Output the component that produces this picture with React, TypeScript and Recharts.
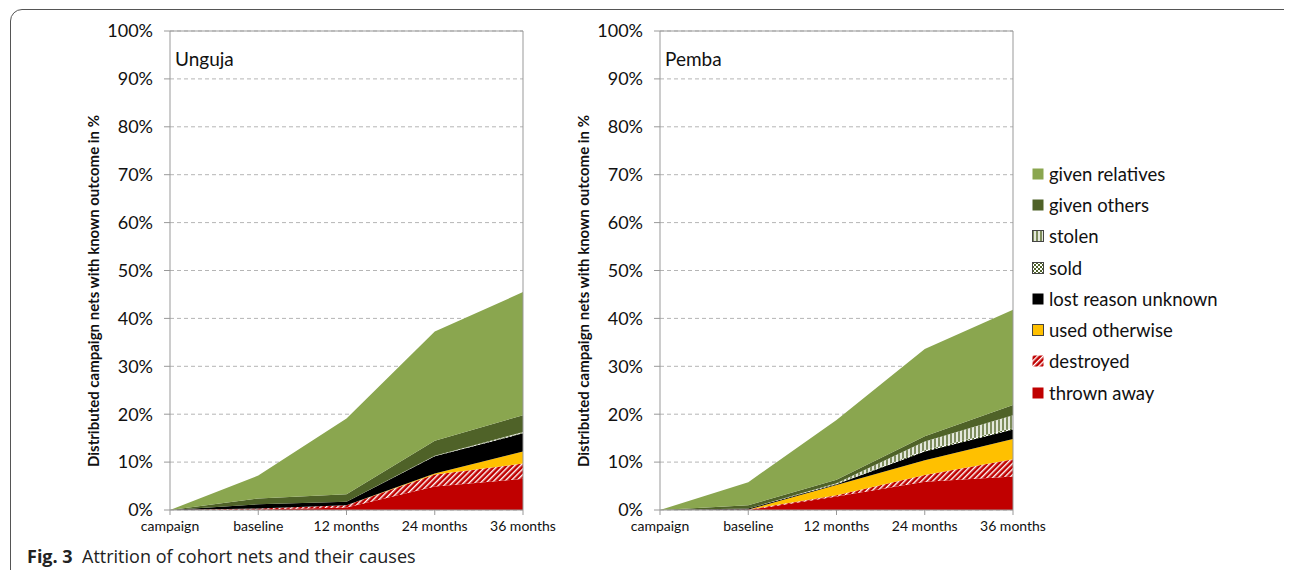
import React from "react";
import {
  AreaChart,
  Area,
  XAxis,
  YAxis,
  CartesianGrid,
  ReferenceLine,
} from "recharts";

const months = ["campaign", "baseline", "12 months", "24 months", "36 months"];
const yTicks = [0, 10, 20, 30, 40, 50, 60, 70, 80, 90, 100];

// Unguja, % of distributed nets per cause
const thrownU = [0, 0.1, 0.5, 4.9, 6.5];
const destroyedU = [0, 0.2, 0.5, 2.5, 3.2];
const usedU = [0, 0, 0, 0.2, 2.5];
const lostU = [0, 0.9, 0.7, 3.6, 3.8];
const soldU = [0, 0, 0, 0.05, 0.1];
const stolenU = [0, 0, 0, 0.1, 0.2];
const othersU = [0, 1.2, 1.6, 3.1, 3.5];
const relativesU = [0, 4.8, 15.8, 22.8, 25.7];

// Pemba
const thrownP = [0, 0, 2.8, 5.9, 7.0];
const destroyedP = [0, 0.1, 0.3, 1.4, 3.6];
const usedP = [0, 0, 2.1, 3.1, 4.2];
const lostP = [0, 0.2, 0.2, 1.8, 2.0];
const soldP = [0, 0, 0, 0.3, 0.3];
const stolenP = [0, 0, 0.2, 1.8, 2.7];
const othersP = [0, 0.7, 0.7, 1.1, 2.1];
const relativesP = [0, 4.8, 12.5, 18.2, 19.9];

const series = [
  { key: "thrown", name: "thrown away" },
  { key: "destroyed", name: "destroyed" },
  { key: "used", name: "used otherwise" },
  { key: "lost", name: "lost reason unknown" },
  { key: "sold", name: "sold" },
  { key: "stolen", name: "stolen" },
  { key: "others", name: "given others" },
  { key: "relatives", name: "given relatives" },
];

const buildRows = (cols: number[][]) =>
  months.map((m, i) => {
    const row: any = { month: m };
    series.forEach((s, j) => (row[s.key] = cols[j][i]));
    return row;
  });

const ungujaRows = buildRows([thrownU, destroyedU, usedU, lostU, soldU, stolenU, othersU, relativesU]);
const pembaRows = buildRows([thrownP, destroyedP, usedP, lostP, soldP, stolenP, othersP, relativesP]);

const FONT = "Lato, 'Open Sans', sans-serif";

function Patterns({ p }: { p: string }) {
  return (
    <defs>
      <pattern id={p + "hatch"} patternUnits="userSpaceOnUse" width="4" height="4" patternTransform="rotate(45)">
        <rect width="4" height="4" fill="#C00000" />
        <rect width="1.4" height="4" fill="#ffffff" />
      </pattern>
      <pattern id={p + "stripe"} patternUnits="userSpaceOnUse" width="4" height="4">
        <rect width="4" height="4" fill="#e4e8dc" />
        <rect width="2" height="4" fill="#7d8c5c" />
      </pattern>
      <pattern id={p + "check"} patternUnits="userSpaceOnUse" width="4" height="4">
        <rect width="4" height="4" fill="#ffffff" />
        <rect width="2" height="2" fill="#4F6228" />
        <rect x="2" y="2" width="2" height="2" fill="#4F6228" />
      </pattern>
    </defs>
  );
}

const fills = (p: string): Record<string, string> => ({
  thrown: "#C00000",
  destroyed: `url(#${p}hatch)`,
  used: "#FFC000",
  lost: "#000000",
  sold: `url(#${p}check)`,
  stolen: `url(#${p}stripe)`,
  others: "#4F6228",
  relatives: "#8AA64F",
});

function Panel({ rows, title, p, left }: { rows: any[]; title: string; p: string; left: number }) {
  const f = fills(p);
  return (
    <div style={{ position: "absolute", left, top: 0 }}>
      <AreaChart
        width={510}
        height={540}
        data={rows}
        margin={{ top: 31, right: 67, left: 20, bottom: 0 }}
        style={{ overflow: "visible" }}
      >
        <Patterns p={p} />
        <CartesianGrid vertical={false} stroke="#b5b5b5" strokeDasharray="4 3" />
        <XAxis
          dataKey="month"
          tick={{ fontSize: 14, fill: "#111", fontFamily: FONT }}
          tickLine={{ stroke: "#999" }}
          axisLine={{ stroke: "#999" }}
          tickSize={5}
          tickMargin={6}
          height={30}
          interval={0}
        />
        <YAxis
          domain={[0, 100]}
          ticks={yTicks}
          tickFormatter={(v: number) => v + "%"}
          tick={{ fontSize: 18, fill: "#111", fontFamily: FONT }}
          tickLine={{ stroke: "#999" }}
          axisLine={{ stroke: "#999" }}
          tickSize={6}
          tickMargin={11}
          width={70}
          interval={0}
        />
        <ReferenceLine y={100} stroke="#999" />
        <ReferenceLine x="36 months" stroke="#999" />
        {series.map((s) => (
          <Area
            key={s.key}
            type="linear"
            dataKey={s.key}
            name={s.name}
            stackId="1"
            stroke="none"
            fill={f[s.key]}
            fillOpacity={1}
            isAnimationActive={false}
          />
        ))}
      </AreaChart>
      <div
        style={{
          position: "absolute",
          left: 95,
          top: 47,
          fontSize: 19,
          fontFamily: FONT,
          color: "#111",
        }}
      >
        {title}
      </div>
      <div
        style={{
          position: "absolute",
          left: 13,
          top: 291,
          transform: "translate(-50%, -50%) rotate(-90deg)",
          whiteSpace: "nowrap",
          fontSize: 15,
          fontWeight: 700,
          fontFamily: FONT,
          color: "#111",
        }}
      >
        Distributed campaign nets with known outcome in %
      </div>
    </div>
  );
}

function Swatch({ k }: { k: string }) {
  const p = "lg" + k;
  const f = fills(p);
  return (
    <svg width={12} height={12} style={{ marginRight: 5 }}>
      <Patterns p={p} />
      <rect x={0.5} y={0.5} width={11} height={11} fill={f[k]} stroke="#444" strokeWidth={k === "sold" || k === "stolen" || k === "used" ? 1 : 0} />
    </svg>
  );
}

export default function App() {
  const legendOrder = [...series].reverse();
  return (
    <div style={{ position: "relative", width: 1292, height: 578, margin: -8, overflow: "hidden", background: "#fff" }}>
      <div
        style={{
          position: "absolute",
          left: 10,
          top: 9,
          width: 1290,
          height: 590,
          border: "1px solid #555",
          borderRadius: 12,
        }}
      />
      <Panel rows={ungujaRows} title="Unguja" p="u" left={80} />
      <Panel rows={pembaRows} title="Pemba" p="p" left={570} />
      <div style={{ position: "absolute", left: 1032, top: 158 }}>
        {legendOrder.map((s) => (
          <div
            key={s.key}
            style={{
              display: "flex",
              alignItems: "center",
              height: 31.3,
              fontSize: 18.5,
              fontFamily: FONT,
              color: "#111",
            }}
          >
            <Swatch k={s.key} />
            {s.name}
          </div>
        ))}
      </div>
      <div
        style={{
          position: "absolute",
          left: 27,
          top: 544,
          fontSize: 18,
          fontFamily: "'Open Sans', sans-serif",
          color: "#222",
        }}
      >
        <b>Fig. 3</b>&nbsp;&nbsp;Attrition of cohort nets and their causes
      </div>
    </div>
  );
}
